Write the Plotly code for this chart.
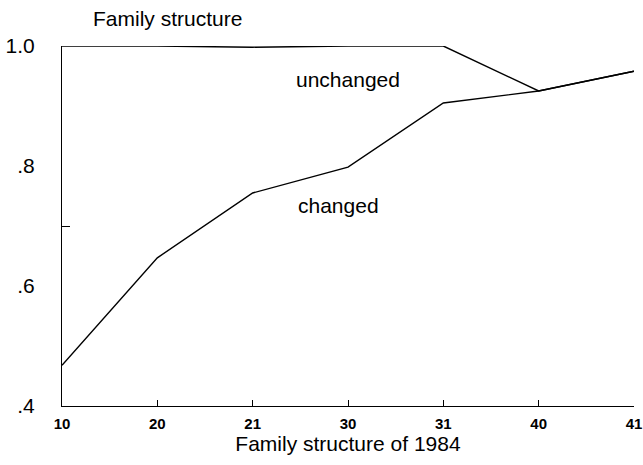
import plotly.graph_objects as go

categories = ["10", "20", "21", "30", "31", "40", "41"]
unchanged = [1.0, 1.0, 0.998, 1.0, 1.0, 0.925, 0.958]
changed = [0.468, 0.647, 0.755, 0.798, 0.905, 0.925, 0.958]
ytick_vals = [0.4, 0.6, 0.8, 1.0]
ytick_text = [".4", ".6", ".8", "1.0"]

FONT = "Liberation Sans, Arial, Helvetica, sans-serif"

W, H = 643, 465

fig = go.Figure()
for name, vals in [("unchanged", unchanged), ("changed", changed)]:
    fig.add_trace(go.Scatter(
        x=categories, y=vals, mode="lines", name=name,
        line=dict(color="black", width=1.4), cliponaxis=False,
        showlegend=False,
    ))

fig.add_annotation(x=3.0, y=0.945, text="unchanged", showarrow=False,
                   font=dict(family=FONT, size=21, color="black"))
fig.add_annotation(x=2.9, y=0.735, text="changed", showarrow=False,
                   font=dict(family=FONT, size=21, color="black"))

fig.update_layout(
    width=W, height=H,
    margin=dict(l=62, r=9, t=46, b=59),
    paper_bgcolor="white", plot_bgcolor="white",
    font=dict(family=FONT, color="black"),
    title=dict(text="Family structure", x=93 / W, xanchor="left",
               y=1 - 19 / H, yanchor="middle",
               font=dict(family=FONT, size=21, color="black")),
    xaxis=dict(
        type="category", range=[0, 6], showgrid=False, zeroline=False,
        showline=True, linecolor="black", linewidth=1.2, automargin=False,
        ticks="inside", ticklen=6, tickcolor="black",
        ticklabelstandoff=4,
        tickfont=dict(family=FONT, size=15, color="black", weight="bold"),
        title=dict(text="Family structure of 1984", standoff=4,
                   font=dict(family=FONT, size=21, color="black")),
    ),
    yaxis=dict(
        range=[0.4, 1.0], showgrid=False, zeroline=False,
        showline=True, linecolor="black", linewidth=1.2, automargin=False,
        tickvals=ytick_vals, ticktext=ytick_text, ticks="",
        ticklabelstandoff=22,
        tickfont=dict(family=FONT, size=21, color="black"),
        minor=dict(tickvals=[0.7], ticks="inside", ticklen=8,
                   tickcolor="black", showgrid=False),
    ),
)

fig.write_html(
    "out.html",
    config={"displayModeBar": False},
    post_script="document.body.style.margin='0';"
                "document.body.style.overflow='hidden';",
)
